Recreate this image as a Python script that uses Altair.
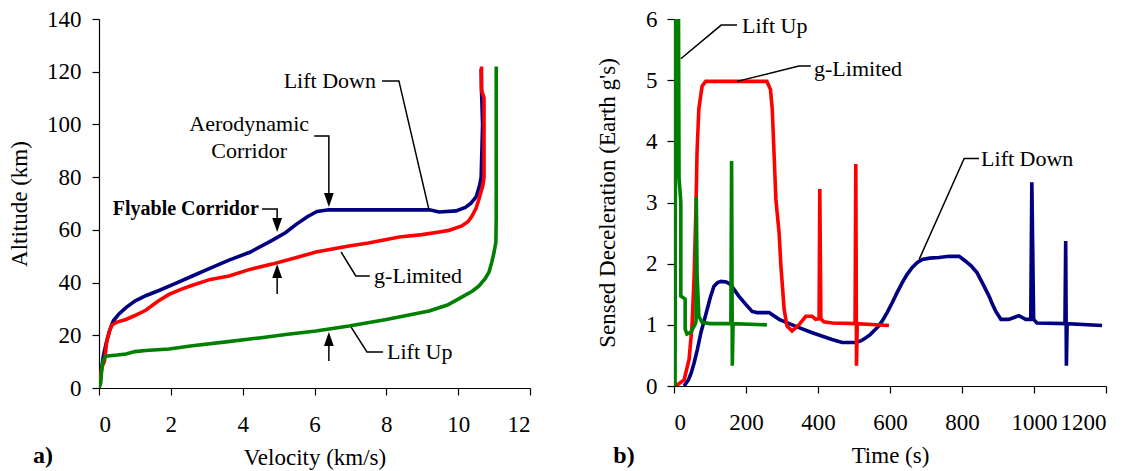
import altair as alt
import pandas as pd

FONT = "Liberation Serif"
SERIES = ["Lift Down", "g-Limited", "Lift Up"]
COLORS = ["#000080", "#FF0000", "#008000"]

# ---------------- Panel a) : altitude vs velocity ----------------
a_ld_v = [0.0, 0.05, 0.12, 0.2, 0.3, 0.4, 0.55, 0.75, 1.0, 1.3, 1.67, 2.1, 2.6, 3.1, 3.62, 4.2, 4.82, 5.2, 5.48, 5.8, 6.07, 6.4, 7.0, 8.0, 9.2, 9.47, 9.94, 10.2, 10.35, 10.5, 10.6, 10.64, 10.68, 10.65, 10.64]
a_ld_h = [0, 5, 12, 17, 22, 25.5, 28, 30.5, 33, 35, 37, 39.5, 42.5, 45.5, 48.5, 51.5, 56, 59, 62, 65, 67, 67.6, 67.6, 67.6, 67.6, 66.8, 67.2, 68.5, 70, 72.5, 77, 80, 100, 113, 121]

a_gl_v = [0, 0.08, 0.15, 0.22, 0.3, 0.37, 0.5, 0.75, 1.0, 1.3, 1.65, 1.95, 2.3, 2.6, 3.1, 3.62, 4.2, 4.82, 5.5, 6.04, 6.96, 7.5, 8.36, 9.0, 9.47, 9.74, 10.1, 10.28, 10.39, 10.5, 10.58, 10.69, 10.72, 10.72, 10.65, 10.65]
a_gl_h = [0, 8, 10, 18, 22, 24, 25, 26, 27.5, 29.5, 33, 35.5, 37.5, 39, 41.2, 42.5, 45, 47, 49.5, 51.6, 53.9, 55, 57.3, 58.2, 59.2, 59.8, 61.5, 63.2, 65.3, 68.3, 71.7, 77, 80, 110, 113, 122]

a_lu_v = [0, 0.05, 0.08, 0.12, 0.19, 0.5, 0.75, 1.0, 1.3, 1.95, 2.6, 3.54, 4.46, 5.2, 6.04, 6.96, 8.0, 9.19, 9.7, 10.1, 10.4, 10.58, 10.75, 10.86, 10.94, 11.0, 11.05, 11.06, 11.06]
a_lu_h = [0, 2, 8, 10.5, 12.1, 12.5, 12.9, 13.8, 14.2, 14.8, 16, 17.5, 19, 20.3, 21.6, 23.5, 26, 29.2, 31.5, 34.5, 36.8, 38.7, 41.5, 44, 48, 51.5, 55.4, 65, 122]

# ---------------- Panel b) : deceleration vs time ----------------
b_ld_t = [28, 40, 48, 56, 65, 75, 83, 92, 101, 111, 121, 131, 145, 157, 180, 200, 217, 231, 264, 292, 340, 384, 439, 467, 505, 520, 533, 545, 555, 567, 578, 592, 606, 620, 634, 648, 662, 676, 690, 710, 736, 764, 792, 810, 826, 842, 858, 875, 885, 894, 908, 930, 958, 977, 991, 994, 999, 1008, 1086, 1088, 1090, 1092, 1189]
b_ld_g = [0, 0.1, 0.22, 0.38, 0.6, 0.88, 1.05, 1.25, 1.45, 1.63, 1.69, 1.71, 1.7, 1.66, 1.47, 1.33, 1.22, 1.2, 1.2, 1.09, 0.97, 0.87, 0.76, 0.71, 0.71, 0.74, 0.79, 0.84, 0.9, 0.97, 1.06, 1.2, 1.36, 1.53, 1.69, 1.83, 1.94, 2.02, 2.07, 2.09, 2.1, 2.12, 2.12, 2.04, 1.96, 1.85, 1.67, 1.47, 1.33, 1.22, 1.09, 1.09, 1.15, 1.09, 1.09, 3.33, 1.09, 1.03, 1.02, 2.37, 0.33, 1.02, 0.99]

b_gl_t = [5, 28, 42, 50, 56, 61, 64, 69, 78, 88, 258, 268, 273, 283, 292, 297, 306, 314, 328, 347, 366, 384, 393, 403, 405, 408, 416, 440, 503, 505, 507, 509, 597]
b_gl_g = [0, 0.1, 0.44, 0.98, 1.8, 2.9, 3.82, 4.53, 4.9, 4.98, 4.98, 4.85, 4.52, 3.05, 2.5, 1.96, 1.25, 0.98, 0.9, 1.0, 1.14, 1.14, 1.09, 1.1, 3.22, 1.1, 1.05, 1.03, 1.02, 3.63, 0.33, 1.02, 0.99]

b_lu_t = [3, 5, 12, 14, 19, 19, 31, 31, 36, 47, 58, 61, 62, 64, 69, 78, 100, 158, 160, 162, 164, 258]
b_lu_g = [0, 7, 7, 3.4, 3.0, 1.47, 1.42, 0.93, 0.85, 0.88, 1.0, 1.05, 3.09, 1.86, 1.14, 1.04, 1.02, 1.02, 3.68, 0.33, 1.02, 1.0]

# ---------------- annotations ----------------
a_lead_id = ["LD"] * 3 + ["AC"] * 3 + ["FC"] * 3 + ["U1"] * 2 + ["GL"] * 3 + ["LU"] * 3 + ["U2"] * 2
a_lead_v = [7.88, 8.35, 9.19, 5.99, 6.40, 6.40, 4.54, 4.96, 4.96, 4.96, 4.96, 7.54, 7.15, 6.74, 7.91, 7.46, 7.02, 6.40, 6.40]
a_lead_h = [116.5, 116.5, 67.5, 95.6, 95.6, 72, 67.9, 67.9, 62, 35.7, 44, 42.5, 42.5, 51.6, 13.7, 13.7, 23.1, 10.2, 19]
a_arrow_v = [6.40, 4.96, 4.96, 6.40]
a_arrow_h = [71.3, 61.8, 44.4, 18.6]
a_arrow_dir = ["down", "down", "up", "up"]

a_text = ["Lift Down", "Aerodynamic", "Corridor", "g-Limited", "Lift Up"]
a_text_v = [7.71, 4.18, 4.18, 7.66, 8.02]
a_text_h = [116.5, 100.2, 89.9, 42.5, 13.7]
a_text_align = ["right", "center", "center", "left", "left"]
a_bold_text = ["Flyable Corridor"]
a_bold_v = [4.45]
a_bold_h = [67.9]

b_lead_id = ["LU"] * 3 + ["GL"] * 3 + ["LD"] * 3
b_lead_t = [175, 131, 19, 380, 347, 175, 847, 806, 681]
b_lead_g = [5.9, 5.9, 5.35, 5.23, 5.23, 4.98, 3.72, 3.72, 2.07]
b_text = ["Lift Up", "g-Limited", "Lift Down"]
b_text_t = [189, 389, 853]
b_text_g = [5.89, 5.18, 3.71]

DOWN = "M-0.7,-1L0.7,-1L0,1Z"
UP = "M-0.7,1L0.7,1L0,-1Z"


def series_df(xs, ys, name, xn, yn):
    return pd.DataFrame({xn: xs, yn: ys, "series": name, "ord": list(range(len(xs)))})


a_df = pd.concat([
    series_df(a_ld_v, a_ld_h, "Lift Down", "v", "h"),
    series_df(a_gl_v, a_gl_h, "g-Limited", "v", "h"),
    series_df(a_lu_v, a_lu_h, "Lift Up", "v", "h"),
])
b_df = pd.concat([
    series_df(b_ld_t, b_ld_g, "Lift Down", "t", "g"),
    series_df(b_gl_t, b_gl_g, "g-Limited", "t", "g"),
    series_df(b_lu_t, b_lu_g, "Lift Up", "t", "g"),
])

color = alt.Color("series:N", scale=alt.Scale(domain=SERIES, range=COLORS), legend=None)

axis_common = dict(grid=False, domainColor="black", tickColor="black", tickSize=7,
                   labelFont=FONT, labelFontSize=23, labelColor="black", labelOverlap=False,
                   titleFont=FONT, titleFontSize=23, titleFontWeight="normal", titleColor="black",
                   domainWidth=1.2, tickWidth=1.2, format="d")

# ---- panel a ----
ax = alt.X("v:Q", scale=alt.Scale(domain=[0, 12], nice=False),
           axis=alt.Axis(values=[0, 2, 4, 6, 8, 10, 12], title="Velocity (km/s)",
                         labelPadding=18, titlePadding=10, **axis_common))
ay = alt.Y("h:Q", scale=alt.Scale(domain=[0, 140], nice=False),
           axis=alt.Axis(values=[0, 20, 40, 60, 80, 100, 120, 140], title="Altitude (km)",
                         labelPadding=11, titlePadding=15, **axis_common))

a_lines = alt.Chart(a_df).mark_line(strokeWidth=3.6, clip=True).encode(
    x=ax, y=ay, color=color, order="ord:Q", detail="series:N")

a_lead = alt.Chart(pd.DataFrame({"id": a_lead_id, "v": a_lead_v, "h": a_lead_h,
                                 "ord": list(range(len(a_lead_v)))})).mark_line(
    color="black", strokeWidth=1.5).encode(x="v:Q", y="h:Q", detail="id:N", order="ord:Q")

a_arr = alt.Chart(pd.DataFrame({"v": a_arrow_v, "h": a_arrow_h, "d": a_arrow_dir})).mark_point(
    filled=True, color="black", opacity=1, size=196).encode(
    x="v:Q", y="h:Q",
    shape=alt.Shape("d:N", scale=alt.Scale(domain=["down", "up"], range=[DOWN, UP]), legend=None))

a_txt_df = pd.DataFrame({"v": a_text_v, "h": a_text_h, "t": a_text, "al": a_text_align})
a_txt_layers = []
for al in ["left", "center", "right"]:
    a_txt_layers.append(
        alt.Chart(a_txt_df[a_txt_df["al"] == al]).mark_text(
            align=al, baseline="middle", font=FONT, fontSize=22, color="black").encode(
            x="v:Q", y="h:Q", text="t:N"))
a_bold = alt.Chart(pd.DataFrame({"v": a_bold_v, "h": a_bold_h, "t": a_bold_text})).mark_text(
    align="right", baseline="middle", font=FONT, fontSize=20, fontWeight="bold", color="black").encode(
    x="v:Q", y="h:Q", text="t:N")
a_tag = alt.Chart(pd.DataFrame({"t": ["a)"]})).mark_text(
    align="center", baseline="middle", font=FONT, fontSize=24, fontWeight="bold", color="black").encode(
    x=alt.value(-56), y=alt.value(437), text="t:N")

panel_a = alt.layer(a_lines, a_lead, a_arr, *a_txt_layers, a_bold, a_tag).properties(width=431, height=369)

# ---- panel b ----
bx = alt.X("t:Q", scale=alt.Scale(domain=[0, 1200], nice=False),
           axis=alt.Axis(values=[0, 200, 400, 600, 800, 1000, 1200], title="Time (s)",
                         labelPadding=18, titlePadding=10, **axis_common))
by = alt.Y("g:Q", scale=alt.Scale(domain=[0, 6], nice=False),
           axis=alt.Axis(values=[0, 1, 2, 3, 4, 5, 6], title="Sensed Deceleration (Earth g's)",
                         labelPadding=10, titlePadding=26, **axis_common))

b_lines = alt.Chart(b_df).mark_line(strokeWidth=3.6, clip=True).encode(
    x=bx, y=by, color=color, order="ord:Q", detail="series:N")
b_lead = alt.Chart(pd.DataFrame({"id": b_lead_id, "t": b_lead_t, "g": b_lead_g,
                                 "ord": list(range(len(b_lead_t)))})).mark_line(
    color="black", strokeWidth=1.5).encode(x="t:Q", y="g:Q", detail="id:N", order="ord:Q")
b_txt = alt.Chart(pd.DataFrame({"t": b_text_t, "g": b_text_g, "s": b_text})).mark_text(
    align="left", baseline="middle", font=FONT, fontSize=22, color="black").encode(
    x="t:Q", y="g:Q", text="s:N")
b_tag = alt.Chart(pd.DataFrame({"s": ["b)"]})).mark_text(
    align="center", baseline="middle", font=FONT, fontSize=24, fontWeight="bold", color="black").encode(
    x=alt.value(-50), y=alt.value(437), text="s:N")

panel_b = alt.layer(b_lines, b_lead, b_txt, b_tag).properties(width=432, height=367)

chart = alt.hconcat(panel_a, panel_b, spacing=144, bounds="flush").properties(
    padding={"left": 8, "top": 8, "right": 5, "bottom": 5},
    background="white",
).configure_view(stroke=None)

chart.save("out.html", embed_options={"renderer": "svg", "actions": False})
